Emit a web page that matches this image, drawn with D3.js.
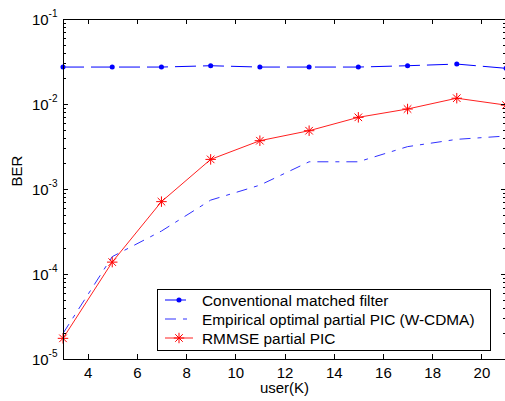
<!DOCTYPE html>
<html>
<head>
<meta charset="utf-8">
<script src="https://cdn.jsdelivr.net/npm/d3@7"></script>
<style>
  body { margin: 0; background: #fff; }
  svg { display: block; font-family: "Liberation Sans", Arial, sans-serif; }
</style>
</head>
<body>
<svg id="chart"></svg>
<script>
// values
const users = [3, 5, 7, 9, 11, 13, 15, 17, 19, 21];
const conventional = [0.0272, 0.0272, 0.0272, 0.0282, 0.0272, 0.0272, 0.0272, 0.0282, 0.0295, 0.0263];
const empirical = [2.0e-5, 1.6e-4, 3.2e-4, 7.4e-4, 1.11e-3, 2.09e-3, 2.09e-3, 3.15e-3, 3.84e-3, 4.2e-3];
const rmmse = [1.75e-5, 1.38e-4, 7.1e-4, 2.23e-3, 3.7e-3, 4.85e-3, 6.97e-3, 8.73e-3, 1.17e-2, 9.7e-3];
const seriesNames = ["Conventional matched filter", "Empirical optimal partial PIC (W-CDMA)", "RMMSE partial PIC"];
const xTicks = [4, 6, 8, 10, 12, 14, 16, 18, 20];
const yTicks = [1e-5, 1e-4, 1e-3, 1e-2, 1e-1];
const yTickExp = ["-5", "-4", "-3", "-2", "-1"];

const width = 505,
      height = 401,
      plotLeft = 63, plotRight = 506, plotTop = 19, plotBottom = 359,
      svg = d3.select("#chart")
              .attr("width", width)
              .attr("height", height);

const x = d3.scaleLinear().domain([3, 21]).range([plotLeft, plotRight]);
const y = d3.scaleLog().domain([1e-5, 1e-1]).range([plotBottom, plotTop]);

// minor ticks 2..9 inside every decade
const minorTicks = [];
yTicks.slice(0, -1).forEach((m) => {
    for (let k = 2; k <= 9; k++) minorTicks.push(k * m);
});

// matlab-ish star: plus and cross
const star = {
    draw(context, size) {
        const r = Math.sqrt(size) / 2, q = r * 0.72;
        context.moveTo(-r, 0); context.lineTo(r, 0);
        context.moveTo(0, -r); context.lineTo(0, r);
        context.moveTo(-q, -q); context.lineTo(q, q);
        context.moveTo(-q, q); context.lineTo(q, -q);
    }
};

const line = d3.line()
    .x((d, i) => x(users[i]))
    .y((d) => y(d));

// series
svg.append("path")
    .attr("d", line(empirical))
    .attr("fill", "none")
    .attr("stroke", "#3030ff")
    .attr("stroke-dasharray", "11,7,4,7");

svg.append("path")
    .attr("d", line(conventional))
    .attr("fill", "none")
    .attr("stroke", "#0000ff")
    .attr("stroke-dasharray", "21,7");

svg.selectAll(".dot")
    .data(conventional)
    .enter().append("path")
        .attr("class", "dot")
        .attr("transform", (d, i) => `translate(${[x(users[i]), y(d)]})`)
        .attr("d", d3.symbol(d3.symbolCircle, 20))
        .attr("fill", "#0000ff");

svg.append("path")
    .attr("d", line(rmmse))
    .attr("fill", "none")
    .attr("stroke", "#ff2020");

svg.selectAll(".star")
    .data(rmmse)
    .enter().append("path")
        .attr("class", "star")
        .attr("transform", (d, i) => `translate(${[x(users[i]), y(d)]})`)
        .attr("d", d3.symbol(star, 110))
        .attr("fill", "none")
        .attr("stroke", "#ff0000");

// axes, ticks pointing inward
const fixAxis = (g) => {
    g.attr("font-size", 15).attr("font-family", null).attr("shape-rendering", "crispEdges");
    g.selectAll("text").attr("fill", "#000");
};

svg.append("g")
    .attr("transform", `translate(0,${plotBottom})`)
    .call(d3.axisBottom(x).tickValues(xTicks).tickSizeInner(-5).tickSizeOuter(0).tickPadding(8))
    .call(fixAxis);

svg.append("g")
    .attr("transform", `translate(0,${plotTop})`)
    .call(d3.axisTop(x).tickValues(xTicks).tickSizeInner(-5).tickSizeOuter(0).tickFormat(""))
    .call(fixAxis);

svg.append("g")
    .attr("transform", `translate(${plotLeft},0)`)
    .call(d3.axisLeft(y).tickValues(yTicks).tickSizeInner(-5).tickSizeOuter(0).tickPadding(5.5).tickFormat(""))
    .call(fixAxis)
    .call((g) => g.selectAll(".tick text").each(function(d, i) {
        const t = d3.select(this).attr("dy", 5.5);
        t.append("tspan").text("10");
        t.append("tspan").attr("font-size", 10).attr("dy", -8).text(yTickExp[i]);
    }));

svg.append("g")
    .attr("transform", `translate(${plotRight},0)`)
    .call(d3.axisRight(y).tickValues(yTicks).tickSizeInner(-5).tickSizeOuter(0).tickFormat(""))
    .call(fixAxis);

svg.append("g")
    .attr("transform", `translate(${plotLeft},0)`)
    .call(d3.axisLeft(y).tickValues(minorTicks).tickSizeInner(-3).tickSizeOuter(0).tickFormat(""))
    .call(fixAxis)
    .call((g) => g.select(".domain").remove());

svg.append("g")
    .attr("transform", `translate(${plotRight},0)`)
    .call(d3.axisRight(y).tickValues(minorTicks).tickSizeInner(-3).tickSizeOuter(0).tickFormat(""))
    .call(fixAxis)
    .call((g) => g.select(".domain").remove());

// axis labels
svg.append("text")
    .attr("x", (plotLeft + plotRight) / 2)
    .attr("y", 393)
    .attr("text-anchor", "middle")
    .attr("font-size", 15)
    .text("user(K)");

svg.append("text")
    .attr("transform", "translate(22,171) rotate(-90)")
    .attr("text-anchor", "middle")
    .attr("font-size", 15)
    .text("BER");

// legend
const legend = svg.append("g").attr("transform", "translate(157,289)");
legend.append("rect")
    .attr("x", 0.5).attr("y", 0.5)
    .attr("width", 333).attr("height", 61)
    .attr("fill", "#fff")
    .attr("stroke", "#000")
    .attr("shape-rendering", "crispEdges");

const styles = [
    {stroke: "#0000ff", dash: "21,7", mark: d3.symbol(d3.symbolCircle, 20), fill: "#0000ff"},
    {stroke: "#3030ff", dash: "11,7,4,7", mark: null},
    {stroke: "#ff2020", dash: null, mark: d3.symbol(star, 110), fill: "none"}
];

seriesNames.forEach((name, i) => {
    const row = legend.append("g").attr("transform", `translate(0,${11 + i * 19})`);
    row.append("line")
        .attr("x1", 8).attr("x2", 36)
        .attr("stroke", styles[i].stroke)
        .attr("stroke-dasharray", styles[i].dash);
    if (styles[i].mark) {
        row.append("path")
            .attr("transform", "translate(22,0)")
            .attr("d", styles[i].mark)
            .attr("fill", styles[i].fill)
            .attr("stroke", styles[i].fill === "none" ? "#ff0000" : null);
    }
    row.append("text")
        .attr("x", 45)
        .attr("y", 5.5)
        .attr("font-size", 15.4)
        .text(name);
});
</script>
</body>
</html>
